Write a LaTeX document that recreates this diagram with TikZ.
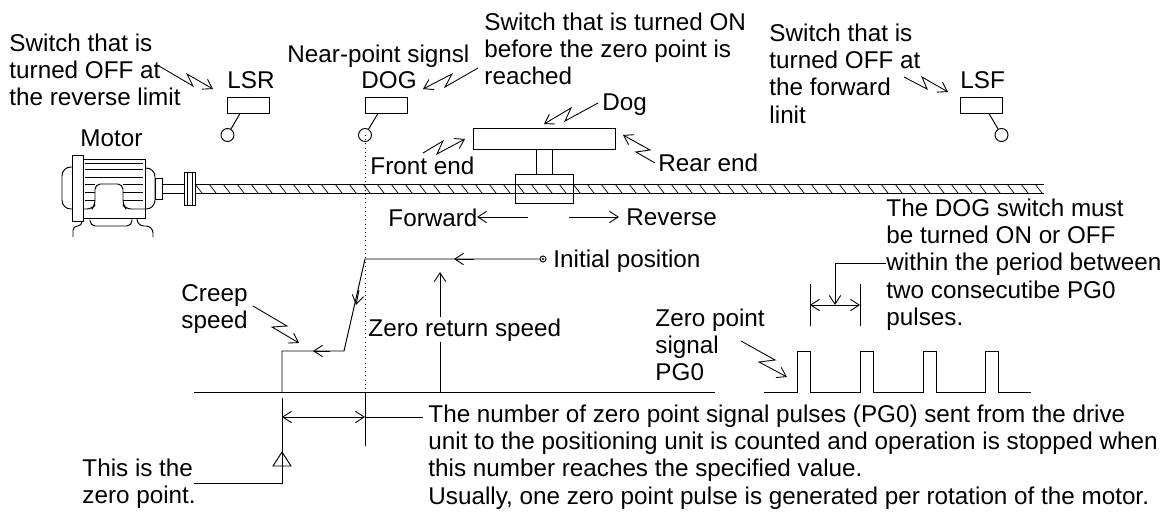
\documentclass[tikz,border=0pt]{standalone}
\usepackage{fontspec}
\setmainfont{Liberation Sans}
\usetikzlibrary{arrows.meta}
\begin{document}
\begin{tikzpicture}[x=0.02cm,y=-0.02cm,line width=0.55pt,>={Straight Barb[length=5pt,width=6.5pt,line width=0.5pt]},
  txt/.style={anchor=north west,inner sep=0pt,yshift=-0.04cm,align=left,font=\fontsize{13.8}{15.6}\selectfont},
  limitbox/.style={draw,inner sep=0pt,minimum width=0.84cm,minimum height=0.32cm},
  ball/.style={draw,circle,inner sep=0pt,minimum size=0.26cm},
  zig/.style={->,line width=0.5pt}]
  \useasboundingbox (0,0) rectangle (1170,511);
  % labels
  \node[txt] (lsrnote) at (9,31) {Switch that is\\turned OFF at\\the reverse limit};
  \node[txt] (nearnote) at (287,42) {Near-point signsl};
  \node[txt] (dogname) at (361,69) {DOG};
  \node[txt] (lsrname) at (227,69) {LSR};
  \node[txt] (lsfname) at (960,69) {LSF};
  \node[txt] (dognote) at (484,10) {Switch that is turned ON\\before the zero point is\\reached};
  \node[txt] (lsfnote) at (769,21) {Switch that is\\turned OFF at\\the forward\\linit};
  \node[txt] (motorname) at (80,127) {Motor};
  \node[txt] (dogtext) at (602,91) {Dog};
  \node[txt] (front) at (370,154) {Front end};
  \node[txt] (rear) at (658,151) {Rear end};
  \node[txt] (forward) at (388,206) {Forward};
  \node[txt] (reverse) at (626,206) {Reverse};
  \node[txt] (initname) at (553,247) {Initial position};
  \node[txt] (creep) at (181,282) {Creep\\speed};
  \node[txt] (zerospeed) at (368,316) {Zero return speed};
  \node[txt] (pgname) at (655,306) {Zero point\\signal\\PG0};
  \node[txt] (windownote) at (886,196) {The DOG switch must\\be turned ON or OFF\\within the period between\\two consecutibe PG0\\pulses.};
  \node[txt] (pulsenote) at (428,402) {The number of zero point signal pulses (PG0) sent from the drive\\unit to the positioning unit is counted and operation is stopped when\\this number reaches the specified value.\\Usually, one zero point pulse is generated per rotation of the motor.};
  \node[txt] (zeronote) at (82,456) {This is the\\zero point.};
  % limit switches
  \node[limitbox] (lsr) at (248,105) {};
  \node[limitbox] (dog) at (386,105) {};
  \node[limitbox] (lsf) at (981,105) {};
  \node[ball] (lsrball) at (227.5,135) {};
  \node[ball] (dogball) at (365,135) {};
  \node[ball] (lsfball) at (1001.5,135) {};
  \draw (lsr.south) ++(-8,0) -- (lsrball);
  \draw (dog.south) ++(-8,0) -- (dogball);
  \draw (lsf.south) ++(8,0) -- (lsfball);
  % zigzag pointers
  \draw[zig] (159,66)--(193,86)--(187,74)--(213,89);
  \draw[zig] (478,68)--(445,87)--(452,74)--(423,89);
  \draw[zig] (904,77)--(927,89)--(922,77)--(948,92);
  \draw[zig] (598,103)--(565,121)--(571,108)--(544,124);
  \draw[zig] (423,153)--(443,141)--(437,154)--(465,139);
  \draw[zig] (655,163)--(636,152)--(650,150)--(623,135);
  \draw[zig] (253,306)--(287,326)--(272,327)--(299,343);
  \draw[zig] (741,341)--(775,360)--(759,362)--(787,377);
  % dog and nut
  \node[draw,inner sep=0pt,minimum width=2.84cm,minimum height=0.42cm] (dogbar) at (544,138.5) {};
  \node[draw,inner sep=0pt,minimum width=1.16cm,minimum height=0.58cm] (nut) at (544,188.5) {};
  \draw (dogbar.south) ++(-8,0) -- ++(0,25);
  \draw (dogbar.south) ++(8,0) -- ++(0,25);
  % screw
  \draw (195,184)--(1044,184) (195,193)--(1044,193);
  \foreach \hx in {195,209,...,1035} \draw[line width=0.4pt] (\hx,184)--(\hx+7,193);
  % motor
  \draw (72,155) rectangle (83,221);
  \draw (83,159)--(145,159)--(145,218)--(83,218);
  \foreach \fy in {163,169,177} \draw (85,\fy)--(143,\fy);
  \foreach \fy in {184,192,200} {\draw (85,\fy)--(95,\fy); \draw (123,\fy)--(143,\fy);}
  \draw[rounded corners=3pt] (83,209)--(92,209)--(95,205)--(95,184)--(123,184)--(123,205)--(126,209)--(145,209);
  \draw[rounded corners=5pt] (72,167)--(62,167)--(62,209)--(72,209);
  \draw[rounded corners=5pt] (145,168)--(155,168)--(155,209)--(145,209);
  \draw (155,178) rectangle (162,199);
  \draw (162,184)--(184,184) (162,193)--(184,193);
  \draw (184,172) rectangle (195,205) (187,172)--(187,205) (192,172)--(192,205);
  \draw[rounded corners=3pt] (90,221)--(90,226)--(132,226)--(132,218);
  \draw[rounded corners=2.5pt] (82,221)--(82,226)--(73,226)--(73,237);
  \draw[rounded corners=4pt] (137,218)--(137,226)--(153,226)--(153,237);
  % directions
  \coordinate (fwdstart) at (528,217);
  \coordinate (fwdtip) at (477,217);
  \coordinate (revstart) at (569,217);
  \coordinate (revtip) at (619,217);
  \draw[->] (fwdstart)--(fwdtip);
  \draw[->] (revstart)--(revtip);
  % speed profile
  \draw[dotted,line width=0.4pt] (dogball.center)--(365,392);
  \node[draw,circle,inner sep=0pt,minimum size=0.12cm] (init) at (543,259) {};
  \fill (init) circle (0.7pt);
  \coordinate (top) at (365,259);
  \coordinate (bend) at (344,351);
  \coordinate (creepend) at (282,351);
  \coordinate (zeropt) at (282,392);
  \draw (init)--(top)--(bend)--(creepend)--(zeropt);
  \draw[->] (474,259)--(454,259);
  \draw[->] (359,290)--(356,305);
  \draw[->] (330,351)--(313,351);
  \coordinate (speedfoot) at (440,392);
  \coordinate (speedtip) at (440,272);
  \draw (speedfoot)--(440,342);
  \draw[->] (440,317)--(speedtip);
  % axis and pulses
  \draw (194,392)--(715,392);
  \draw (764,392)\foreach \px in {797,860,923,985} {--(\px,392)--(\px,351)--(\px+13,351)--(\px+13,392)}--(1031,392);
  % zero point marker
  \coordinate (zeroend) at (194,483);
  \draw (282,398)--(282,483)--(zeroend);
  \draw (282,452)--(273,466)--(291,466)--cycle;
  % dimensions
  \coordinate (dimleft) at (282,417);
  \coordinate (dimright) at (365,417);
  \draw (365,392)--(365,446);
  \draw[<->] (dimleft)--(dimright);
  \draw (dimright)--(423,417);
  \coordinate (winleft) at (810,305);
  \coordinate (winright) at (860,305);
  \draw (810,284)--(810,326) (860,284)--(860,326);
  \draw[<->] (winleft)--(winright);
  \coordinate (winmid) at (835,305);
  \draw[->] (windownote.west |- 886,263)--(835,263)--(winmid);
\end{tikzpicture}
\end{document}
